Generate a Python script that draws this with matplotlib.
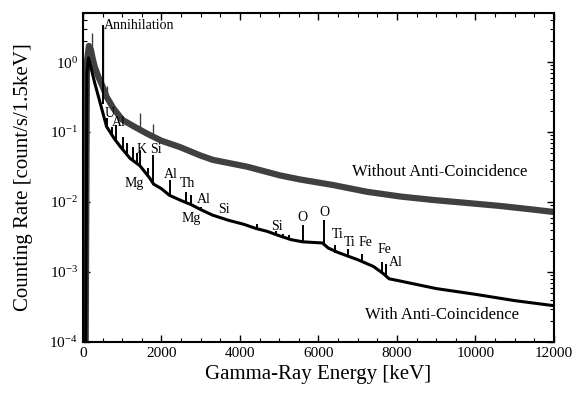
import matplotlib
matplotlib.use("Agg")
import matplotlib.pyplot as plt
from matplotlib.ticker import MultipleLocator, LogLocator

plt.rcParams['font.family'] = ['Liberation Serif', 'DejaVu Serif']
plt.rcParams['mathtext.fontset'] = 'custom'
plt.rcParams['mathtext.rm'] = 'Liberation Serif'

# spectrum without anti-coincidence
upper_e = [60, 100, 150, 200, 250, 300, 400, 500, 600, 770, 1000, 1300, 1630, 2000,
           2470, 3000, 3310, 4180, 5020, 5530, 6370, 7240, 8080, 8920, 9780, 10620,
           11470, 12000]
upper_rate = [1e-5, 1.0, 1.7, 1.5, 1.1, 0.85, 0.6, 0.45, 0.32, 0.22, 0.15, 0.12, 0.095,
              0.075, 0.061, 0.046, 0.040, 0.032, 0.024, 0.021, 0.0175, 0.014, 0.012,
              0.0107, 0.0097, 0.0088, 0.0078, 0.0072]
upper_peak_e = [230, 511, 610, 1460, 1780]
upper_peak_base = [1.5, 0.45, 0.3, 0.1, 0.085]
upper_peak_top = [2.6, 3.4, 0.45, 0.19, 0.13]

# spectrum with anti-coincidence
lower_e = [60, 100, 140, 200, 300, 430, 600, 800, 950, 1200, 1450, 1700, 1800, 2000,
           2200, 2500, 2750, 3000, 3300, 3700, 4100, 4400, 4700, 5000, 5300, 5600,
           6100, 6250, 6500, 7000, 7400, 7650, 7800, 8000, 9000, 10000, 11000, 12000]
lower_rate = [1e-5, 0.7, 1.15, 0.85, 0.5, 0.27, 0.12, 0.08, 0.062, 0.042, 0.033, 0.022,
              0.018, 0.0155, 0.0125, 0.0105, 0.0092, 0.0078, 0.0065, 0.0055, 0.0048,
              0.0042, 0.0038, 0.0033, 0.0029, 0.0027, 0.0026, 0.0022, 0.0019, 0.0015,
              0.0012, 0.00095, 0.0008, 0.00076, 0.00058, 0.00048, 0.00039, 0.00033]
lower_peak_e = [511, 610, 740, 844, 1020, 1120, 1275, 1380, 1460, 1660, 1780, 2215,
                2615, 2750, 3000, 4440, 4930, 5100, 5250, 5618, 6129, 6420, 6760,
                7120, 7630, 7720]
lower_peak_base = [0.25, 0.11, 0.09, 0.075, 0.055, 0.05, 0.04, 0.036, 0.033, 0.024,
                   0.018, 0.0125, 0.0098, 0.0092, 0.0077, 0.0042, 0.0034, 0.0031,
                   0.0029, 0.0027, 0.0026, 0.0019, 0.0017, 0.0014, 0.00098, 0.0009]
lower_peak_top = [3.4, 0.16, 0.118, 0.126, 0.085, 0.070, 0.061, 0.050, 0.055, 0.031,
                  0.047, 0.0206, 0.0139, 0.0126, 0.0085, 0.0048, 0.0038, 0.0035,
                  0.0034, 0.0047, 0.0055, 0.0024, 0.0021, 0.0018, 0.0014, 0.0013]

# element labels
label_text = ['U', 'Al', 'K', 'Si', 'Mg', 'Al', 'Th', 'Al', 'Mg', 'Si', 'Si', 'O', 'O',
              'Ti', 'Ti', 'Fe', 'Fe', 'Al']
label_e = [690, 900, 1500, 1870, 1300, 2240, 2660, 3090, 2760, 3580, 4950, 5600, 6140,
           6480, 6790, 7200, 7680, 7960]
label_rate = [0.187, 0.135, 0.057, 0.057, 0.0187, 0.025, 0.0187, 0.0107, 0.0059, 0.0079,
              0.0044, 0.0061, 0.0070, 0.0034, 0.0026, 0.0026, 0.0021, 0.00135]

fig = plt.figure(figsize=(5.78, 3.98), dpi=100)
ax = fig.add_axes([0.1436, 0.1407, 0.8148, 0.8263])

ax.plot(upper_e, upper_rate, color='#404040', lw=4.5, solid_joinstyle='round')
ax.vlines(upper_peak_e, upper_peak_base, upper_peak_top, color='#404040', lw=1.0)
ax.plot(lower_e, lower_rate, color='black', lw=2.2, solid_joinstyle='round')
ax.vlines(lower_peak_e, lower_peak_base, lower_peak_top, color='black', lw=1.4)

for t, e, r in zip(label_text, label_e, label_rate):
    ax.text(e, r, t, fontsize=10, ha='center', va='center')

ax.text(540, 3.3, 'Annihilation', fontsize=10, ha='left', va='center')
ax.text(9100, 0.0268, 'Without Anti-Coincidence', fontsize=12, ha='center', va='center')
ax.text(9150, 0.000243, 'With Anti-Coincidence', fontsize=12, ha='center', va='center')

ax.set_yscale('log')
ax.set_xlim(0, 12000)
ax.set_ylim(1e-4, 5)
ax.xaxis.set_major_locator(MultipleLocator(2000))
ax.xaxis.set_minor_locator(MultipleLocator(500))
ax.yaxis.set_major_locator(LogLocator(base=10, numticks=10))
ax.yaxis.set_minor_locator(LogLocator(base=10, subs=range(2, 10), numticks=10))
ax.tick_params(which='both', direction='in', top=True, right=True, labelsize=11)
ax.tick_params(which='major', length=5, width=1.0)
ax.tick_params(which='minor', length=3, width=0.8)
for s in ax.spines.values():
    s.set_linewidth(1.5)

ax.set_xlabel('Gamma-Ray Energy [keV]', fontsize=15)
ax.set_ylabel('Counting Rate [count/s/1.5keV]', fontsize=15, labelpad=12)

fig.savefig('out.png', dpi=100)
